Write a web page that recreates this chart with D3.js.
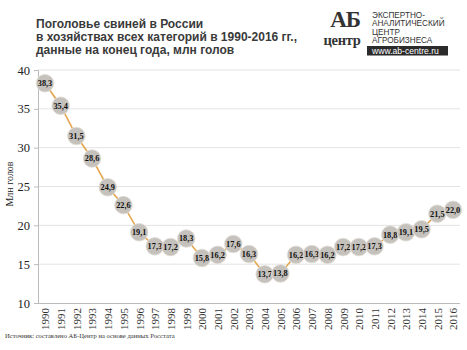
<!DOCTYPE html>
<html><head><meta charset="utf-8">
<script src="https://cdn.jsdelivr.net/npm/d3@7"></script>
<style>body{margin:0;background:#fff}svg{display:block}</style>
</head><body>
<script>
const years = [1990,1991,1992,1993,1994,1995,1996,1997,1998,1999,2000,2001,2002,2003,2004,2005,2006,2007,2008,2009,2010,2011,2012,2013,2014,2015,2016];
const values = [38.3,35.4,31.5,28.6,24.9,22.6,19.1,17.3,17.2,18.3,15.8,16.2,17.6,16.3,13.7,13.8,16.2,16.3,16.2,17.2,17.2,17.3,18.8,19.1,19.5,21.5,22.0];
const yTicks = [10,15,20,25,30,35,40];
const titleLines = ["Поголовье свиней в России","в хозяйствах всех категорий в 1990-2016 гг.,","данные на конец года, млн голов"];
const logoLines = ["ЭКСПЕРТНО-","АНАЛИТИЧЕСКИЙ","ЦЕНТР","АГРОБИЗНЕСА"];

const W=467,H=350;
const svg=d3.select("body").append("svg").attr("width",W).attr("height",H);
const x=d3.scalePoint().domain(years).range([45,453]);
const y=d3.scaleLinear().domain([10,40]).range([303,70]);
const serif="'Liberation Serif','Times New Roman',serif";
const sans="'Liberation Sans',Arial,sans-serif";

// grid
svg.append("g").selectAll("line").data(yTicks.filter(d=>d>10)).join("line")
 .attr("x1",38).attr("x2",460).attr("y1",d=>y(d)).attr("y2",d=>y(d))
 .attr("stroke","#e3e3e3").attr("stroke-width",1);

const ya=svg.append("g").attr("transform","translate(38,0)")
 .call(d3.axisLeft(y).tickValues(yTicks).tickSize(4).tickPadding(4));
ya.select(".domain").attr("stroke","#bbb");
ya.selectAll(".tick line").attr("stroke","#bbb");
ya.selectAll("text").attr("font-family",serif).attr("font-size",12.5).attr("fill","#222");

const xa=svg.append("g").attr("transform","translate(0,303)")
 .call(d3.axisBottom(x).tickSize(0).tickPadding(3));
xa.select(".domain").attr("d","M38,0.5H460").attr("stroke","#bbb");
xa.selectAll("text").attr("font-family",serif).attr("font-size",11).attr("fill","#333")
 .attr("transform","rotate(-90)").attr("text-anchor","end").attr("dx",0).attr("dy","0.35em").attr("x",-5).attr("y",0);

// y label
svg.append("text").attr("transform","translate(13,184) rotate(-90)").attr("text-anchor","middle")
 .attr("font-family",serif).attr("font-size",10).attr("fill","#222").text("Млн голов");

// line
svg.append("path").datum(values).attr("fill","none").attr("stroke","#e6a650").attr("stroke-width",1.6)
 .attr("d",d3.line().x((d,i)=>x(years[i])).y(d=>y(d)));

const pts=svg.append("g").selectAll("g").data(values).join("g")
 .attr("transform",(d,i)=>`translate(${x(years[i])},${y(d)})`);
pts.append("circle").attr("r",8.8).attr("fill","#c5c1bc").attr("stroke","#e2ddd6").attr("stroke-width",0.8);
pts.append("text").attr("text-anchor","middle").attr("dy","0.35em")
 .attr("font-family",serif).attr("font-size",8.3).attr("font-weight","bold").attr("fill","#111")
 .text(d=>d.toFixed(1).replace(".",","));

// title
svg.append("g").selectAll("text").data(titleLines).join("text")
 .attr("x",36).attr("y",(d,i)=>28+i*13)
 .attr("font-family",sans).attr("font-size",12).attr("font-weight","bold").attr("fill","#3a3a3a")
 .text(d=>d);

// logo
svg.append("text").attr("x",345).attr("y",27).attr("text-anchor","middle")
 .attr("font-family",serif).attr("font-size",23).attr("font-weight","bold").attr("fill","#333")
 .attr("letter-spacing",-1.2).text("АБ");
svg.append("text").attr("x",342).attr("y",45).attr("text-anchor","middle")
 .attr("font-family",serif).attr("font-size",14.5).attr("font-weight","bold").attr("fill","#333")
 .attr("letter-spacing",-0.3).text("центр");

svg.append("g").selectAll("text").data(logoLines).join("text")
 .attr("x",372).attr("y",(d,i)=>18.3+i*8.1)
 .attr("font-family",sans).attr("font-size",8.2).attr("fill","#333")
 .text(d=>d);
svg.append("rect").attr("x",367).attr("y",46).attr("width",81).attr("height",9.5).attr("fill","#2b2b2b");
svg.append("text").attr("x",372).attr("y",54)
 .attr("font-family",sans).attr("font-size",8.6).attr("fill","#fff")
 .text("www.ab-centre.ru");

// source
svg.append("text").attr("x",5).attr("y",338)
 .attr("font-family",serif).attr("font-size",6.6).attr("fill","#333")
 .text("Источник:  составлено АБ-Центр  на основе данных  Росстата");
</script>
</body></html>
